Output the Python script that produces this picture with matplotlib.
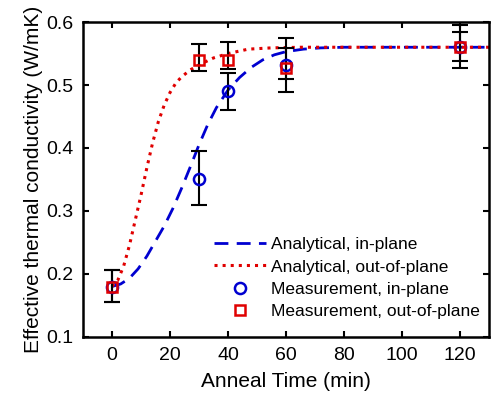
import numpy as np
import matplotlib
matplotlib.use("Agg")
import matplotlib.pyplot as plt

plt.rcParams['font.family'] = ['Liberation Sans', 'DejaVu Sans']

# analytical curves
t_in = [0, 3, 6, 9, 12, 15, 18, 21, 24, 27, 30, 33, 36, 40, 44, 48, 52, 56, 60, 66, 72, 80, 130]
k_in = [0.180, 0.184, 0.193, 0.208, 0.228, 0.252, 0.276, 0.304, 0.336, 0.370, 0.405, 0.437,
        0.464, 0.492, 0.512, 0.528, 0.540, 0.548, 0.553, 0.557, 0.559, 0.560, 0.560]
t_out = [0, 2, 4, 6, 8, 10, 12, 14, 16, 18, 20, 22, 24, 27, 30, 35, 40, 47, 55, 65, 130]
k_out = [0.180, 0.190, 0.212, 0.245, 0.285, 0.325, 0.368, 0.408, 0.442, 0.468, 0.488, 0.503,
         0.513, 0.524, 0.532, 0.543, 0.550, 0.557, 0.559, 0.560, 0.560]

# measurements
t_meas = [0, 30, 40, 60, 120]
m_in = [0.18, 0.35, 0.49, 0.532, 0.56]
m_in_lo = [0.155, 0.31, 0.46, 0.489, 0.527]
m_in_hi = [0.207, 0.395, 0.519, 0.575, 0.595]
m_out = [0.18, 0.54, 0.54, 0.527, 0.56]
m_out_lo = [0.155, 0.522, 0.525, 0.51, 0.538]
m_out_hi = [0.207, 0.565, 0.568, 0.559, 0.584]

fig = plt.figure(figsize=(4.91, 3.94), dpi=100)
ax = fig.add_axes([0.169, 0.145, 0.827, 0.799])

l1, = ax.plot(t_in, k_in, '--', color='#0000d0', lw=2, dashes=(5, 3))
l2, = ax.plot(t_out, k_out, ':', color='#e00000', lw=2.2)

for y, lo, hi in [(m_in, m_in_lo, m_in_hi), (m_out, m_out_lo, m_out_hi)]:
    y = np.array(y)
    err = [y - np.array(lo), np.array(hi) - y]
    ax.errorbar(t_meas, y, yerr=err, fmt='none', ecolor='black',
                elinewidth=1.5, capsize=5.5, capthick=1.5)

p1, = ax.plot(t_meas, m_in, 'o', mfc='none', mec='#0000d0', ms=8, mew=1.8, ls='none')
p2, = ax.plot(t_meas, m_out, 's', mfc='none', mec='#e00000', ms=7.5, mew=1.8, ls='none')

ax.set_xlim(-10, 130)
ax.set_ylim(0.1, 0.6)
ax.set_xticks([0, 20, 40, 60, 80, 100, 120])
ax.set_yticks([0.1, 0.2, 0.3, 0.4, 0.5, 0.6])
ax.tick_params(direction='in', top=True, right=True, labelsize=14, width=1.5, length=4, pad=7)
for s in ax.spines.values():
    s.set_linewidth(1.8)

ax.set_xlabel('Anneal Time (min)', fontsize=15, labelpad=6)
ax.set_ylabel('Effective thermal conductivity (W/mK)', fontsize=15, labelpad=2)

ax.legend([l1, l2, p1, p2],
          ['Analytical, in-plane', 'Analytical, out-of-plane',
           'Measurement, in-plane', 'Measurement, out-of-plane'],
          loc='lower right', bbox_to_anchor=(1.0, 0.03), frameon=False,
          fontsize=12.5, handlelength=3, handletextpad=0.3, labelspacing=0.4,
          borderaxespad=0.1)

fig.savefig('out.png', dpi=100)
